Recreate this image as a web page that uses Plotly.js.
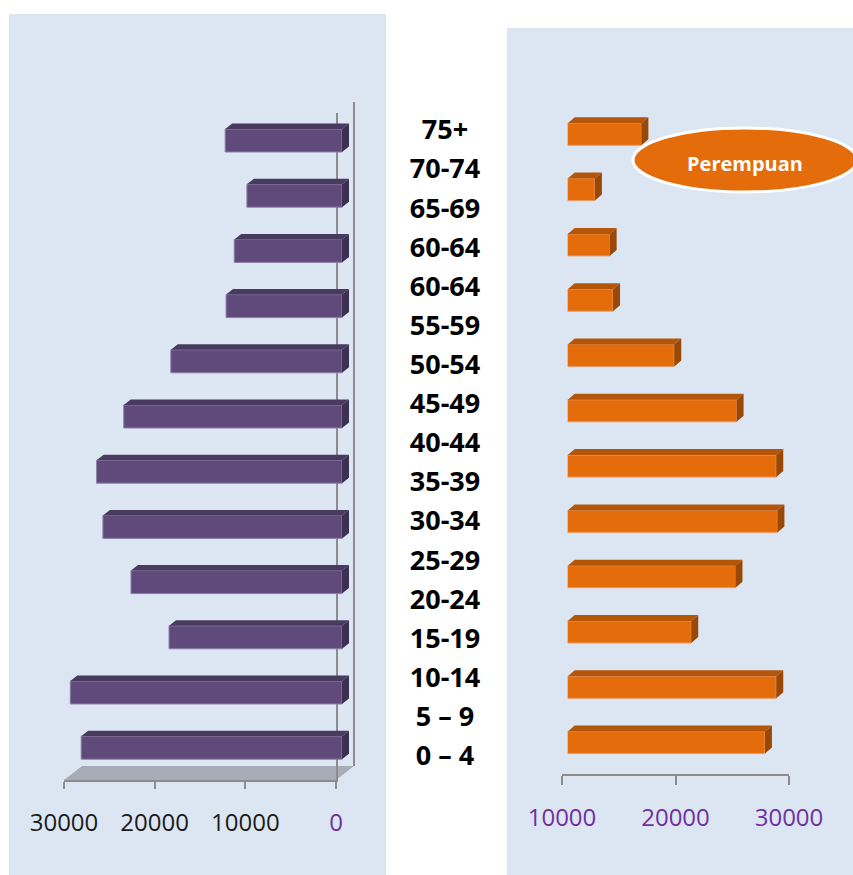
<!DOCTYPE html>
<html>
<head>
<meta charset="utf-8">
<script src="https://cdn.plot.ly/plotly-3.0.1.min.js"></script>
<style>html,body{margin:0;padding:0;background:#fff;}#chart{width:853px;height:875px;}</style>
</head>
<body>
<div id="chart"></div>
<script>
// ---- data ----
const ageLabels = ['75+','70-74','65-69','60-64','60-64','55-59','50-54','45-49','40-44','35-39','30-34','25-29','20-24','15-19','10-14','5 \u2013 9','0 \u2013 4'];
// bar rows, top (12) to bottom (1)
const barRows = [12, 11, 10, 9, 8, 7, 6, 5, 4, 3, 2, 1];
// left panel (purple) values, top to bottom
const leftValues = [12900, 10500, 11900, 12800, 18900, 24100, 27100, 26400, 23300, 19100, 30000, 28800];
// right panel (Perempuan, orange) values, top to bottom
const rightValues = [16500, 12400, 13700, 14000, 19400, 24900, 28400, 28500, 24800, 20900, 28400, 27400];
const leftTicks = [30000, 20000, 10000, 0];
const rightTicks = [10000, 20000, 30000];
const rightLabel = 'Perempuan';

// ---- layout helpers ----
const W = 853, H = 875;
const X = p => p / W;
const Y = p => 1 - p / H;

const leftUnitsPerPx = 10000 / 90.57;
const rightUnitsPerPx = 10000 / 113.35;
const leftPxPerRow = 55.2, rightPxPerRow = 55.3;
const rightMin = 10000;

// 3D face polygons built from data
function facesLeft(vals, rows, halfW, dxPx, dyPx) {
  const dx = dxPx * leftUnitsPerPx, dy = dyPx / leftPxPerRow;
  const top = {x: [], y: []}, side = {x: [], y: []};
  vals.forEach((v, i) => {
    const yt = rows[i] + halfW, yb = rows[i] - halfW;
    top.x.push(v, 0, -dx, v - dx, v, null);
    top.y.push(yt, yt, yt + dy, yt + dy, yt, null);
    side.x.push(0, 0, -dx, -dx, 0, null);
    side.y.push(yb, yt, yt + dy, yb + dy, yb, null);
  });
  return {top, side};
}
function facesRight(vals, rows, halfW, dxPx, dyPx) {
  const dx = dxPx * rightUnitsPerPx, dy = dyPx / rightPxPerRow;
  const top = {x: [], y: []}, side = {x: [], y: []};
  vals.forEach((v, i) => {
    const yt = rows[i] + halfW, yb = rows[i] - halfW;
    top.x.push(rightMin, v, v + dx, rightMin + dx, rightMin, null);
    top.y.push(yt, yt, yt + dy, yt + dy, yt, null);
    side.x.push(v, v, v + dx, v + dx, v, null);
    side.y.push(yb, yt, yt + dy, yb + dy, yb, null);
  });
  return {top, side};
}

const lHalf = 23 / leftPxPerRow / 2;
const rHalf = 22 / rightPxPerRow / 2;
const lf = facesLeft(leftValues, barRows, lHalf, 7, 5.5);
const rf = facesRight(rightValues, barRows, rHalf, 7, 6);

const PURPLE = '#604a7b', PURPLE_TOP = '#493a60', PURPLE_SIDE = '#3e3052';
const ORANGE = '#e46c0a', ORANGE_TOP = '#b4560a', ORANGE_SIDE = '#9a4806';

const traces = [
  // carriers that make the two tick axes exist (no visible marks)
  {type: 'scatter', mode: 'markers', x: leftTicks, y: leftTicks.map(() => null),
   xaxis: 'x', yaxis: 'y', hoverinfo: 'skip', marker: {opacity: 0}},
  {type: 'scatter', mode: 'markers', x: rightTicks, y: rightTicks.map(() => null),
   xaxis: 'x4', yaxis: 'y2', hoverinfo: 'skip', marker: {opacity: 0}},

  {type: 'bar', orientation: 'h', x: leftValues, y: barRows, width: lHalf * 2,
   xaxis: 'x3', yaxis: 'y', marker: {color: PURPLE, line: {color: '#8e80a8', width: 1}}, hoverinfo: 'skip'},
  {type: 'scatter', mode: 'lines', x: lf.top.x, y: lf.top.y, fill: 'toself', fillcolor: PURPLE_TOP,
   line: {width: 0, color: PURPLE_TOP}, xaxis: 'x3', yaxis: 'y', hoverinfo: 'skip'},
  {type: 'scatter', mode: 'lines', x: lf.side.x, y: lf.side.y, fill: 'toself', fillcolor: PURPLE_SIDE,
   line: {width: 0, color: PURPLE_SIDE}, xaxis: 'x3', yaxis: 'y', hoverinfo: 'skip'},

  {type: 'bar', orientation: 'h', x: rightValues, y: barRows, width: rHalf * 2,
   xaxis: 'x5', yaxis: 'y2', marker: {color: ORANGE, line: {color: '#eb9a63', width: 1}}, hoverinfo: 'skip'},
  {type: 'scatter', mode: 'lines', x: rf.top.x, y: rf.top.y, fill: 'toself', fillcolor: ORANGE_TOP,
   line: {width: 0, color: ORANGE_TOP}, xaxis: 'x5', yaxis: 'y2', hoverinfo: 'skip'},
  {type: 'scatter', mode: 'lines', x: rf.side.x, y: rf.side.y, fill: 'toself', fillcolor: ORANGE_SIDE,
   line: {width: 0, color: ORANGE_SIDE}, xaxis: 'x5', yaxis: 'y2', hoverinfo: 'skip'},

  {type: 'scatter', mode: 'text', x: ageLabels.map(() => 0.5), y: ageLabels.map((_, i) => i),
   text: ageLabels, textposition: 'middle center', cliponaxis: false,
   textfont: {family: 'Open Sans', size: 27, weight: 700, color: '#000000'},
   xaxis: 'x6', yaxis: 'y3', hoverinfo: 'skip'}
];

const GREY = '#8c8c8c';
const tickFont = {family: 'Open Sans', size: 24, color: '#1a1a1a'};

const layout = {
  width: W, height: H,
  margin: {l: 0, r: 0, t: 0, b: 0},
  showlegend: false,
  paper_bgcolor: '#ffffff',
  plot_bgcolor: 'rgba(0,0,0,0)',
  // left tick axis
  xaxis: {domain: [X(64), X(336)], range: [30000, 0], anchor: 'y',
    tickvals: leftTicks,
    ticktext: leftTicks.map(v => v === 0 ? '<span style="color:#7030a0">0</span>' : String(v)),
    ticks: 'outside', ticklen: 7, tickwidth: 2, tickcolor: GREY,
    showline: true, linecolor: GREY, linewidth: 2,
    showgrid: false, zeroline: false, tickfont: tickFont, ticklabelstandoff: 13, fixedrange: true},
  yaxis: {domain: [Y(780), Y(112.9)], range: [0.415, 12.5], anchor: 'x', side: 'right',
    showline: true, linecolor: GREY, linewidth: 2, ticks: '', showticklabels: false,
    showgrid: false, zeroline: false, fixedrange: true},
  xaxis3: {domain: [X(20), X(380)], range: [(342 - 20) * leftUnitsPerPx, (342 - 380) * leftUnitsPerPx],
    anchor: 'y', visible: false, fixedrange: true},
  // right
  yaxis2: {domain: [Y(774), Y(106.65)], range: [0.432, 12.5], anchor: 'x4', visible: false, fixedrange: true},
  xaxis4: {domain: [X(562), X(789)], range: [10000, 30000], anchor: 'y2',
    tickvals: rightTicks, ticktext: rightTicks.map(String),
    ticks: 'outside', ticklen: 9, tickwidth: 2, tickcolor: GREY,
    showline: true, linecolor: GREY, linewidth: 2,
    showgrid: false, zeroline: false,
    tickfont: {family: 'Open Sans', size: 24, color: '#7030a0'}, ticklabelstandoff: 12, fixedrange: true},
  xaxis5: {domain: [X(567.7), X(853)], range: [rightMin, rightMin + (853 - 567.7) * rightUnitsPerPx],
    anchor: 'y2', visible: false, fixedrange: true},
  // middle labels
  xaxis6: {domain: [X(390), X(500)], range: [0, 1], anchor: 'y3', visible: false, fixedrange: true},
  yaxis3: {domain: [Y(778), Y(113)], range: [16.5, -0.5], anchor: 'x6', visible: false, fixedrange: true},
  shapes: [
    {type: 'rect', xref: 'paper', yref: 'paper', x0: X(9), x1: X(386), y0: Y(875), y1: Y(14),
     fillcolor: '#dce6f2', line: {width: 0}, layer: 'below'},
    {type: 'rect', xref: 'paper', yref: 'paper', x0: X(507), x1: X(853), y0: Y(875), y1: Y(28),
     fillcolor: '#dce6f2', line: {width: 0}, layer: 'below'},
    {type: 'rect', xref: 'paper', yref: 'paper', x0: X(82), x1: X(354), y0: Y(766), y1: Y(103),
     fillcolor: '#dde7f3', line: {width: 0}, layer: 'below'},
    {type: 'path', xref: 'paper', yref: 'paper',
     path: `M ${X(64)},${Y(780)} L ${X(82)},${Y(766)} L ${X(354)},${Y(766)} L ${X(336)},${Y(780)} Z`,
     fillcolor: '#a7adb8', line: {width: 0}, layer: 'below'},
    {type: 'line', xref: 'paper', yref: 'paper', x0: X(354), x1: X(354), y0: Y(766), y1: Y(102),
     line: {color: GREY, width: 2}, layer: 'below'},
    {type: 'circle', xref: 'paper', yref: 'paper', x0: X(633), x1: X(857), y0: Y(192), y1: Y(128),
     fillcolor: ORANGE, line: {color: '#ffffff', width: 3}, layer: 'above'}
  ],
  annotations: [
    {xref: 'paper', yref: 'paper', x: X(745), y: Y(163), text: rightLabel, showarrow: false,
     xanchor: 'center', yanchor: 'middle',
     font: {family: 'Open Sans', size: 20, weight: 700, color: '#ffffff'}}
  ]
};

Plotly.newPlot('chart', traces, layout, {staticPlot: true, displayModeBar: false});
</script>
</body>
</html>
